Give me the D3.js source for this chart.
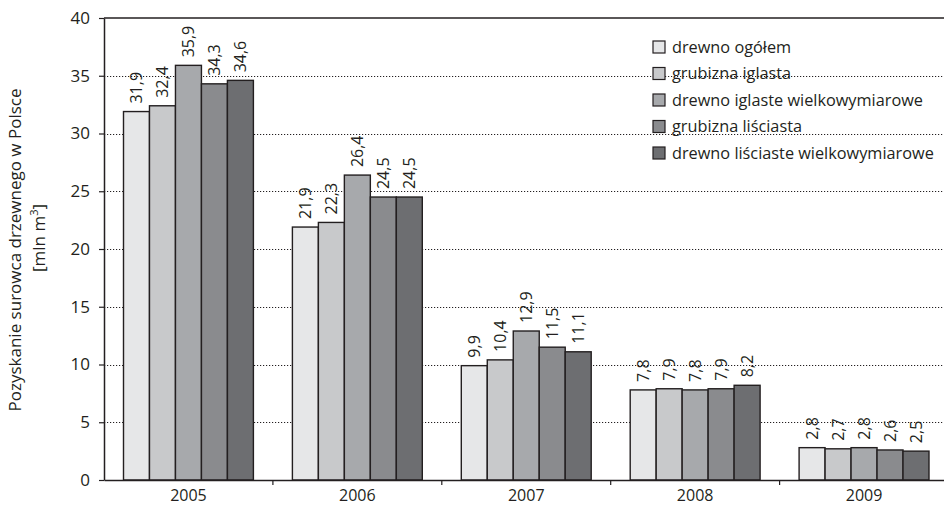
<!DOCTYPE html>
<html>
<head>
<meta charset="utf-8">
<script src="https://cdn.jsdelivr.net/npm/d3@7"></script>
<style>
  html, body { margin: 0; padding: 0; background: #fff; }
  svg { display: block; font-family: "Open Sans", "Noto Sans", sans-serif; }
</style>
</head>
<body>
<svg id="chart" width="944" height="508"></svg>
<script>
// Harvest of raw wood in Poland, million m³
const years = ["2005", "2006", "2007", "2008", "2009"];
const seriesNames = [
  "drewno ogółem",
  "grubizna iglasta",
  "drewno iglaste wielkowymiarowe",
  "grubizna liściasta",
  "drewno liściaste wielkowymiarowe"
];
const drewnoOgolem = [31.9, 21.9, 9.9, 7.8, 2.8];
const grubiznaIglasta = [32.4, 22.3, 10.4, 7.9, 2.7];
const iglasteWielkowymiarowe = [35.9, 26.4, 12.9, 7.8, 2.8];
const grubiznaLisciasta = [34.3, 24.5, 11.5, 7.9, 2.6];
const lisciasteWielkowymiarowe = [34.6, 24.5, 11.1, 8.2, 2.5];
const yTicks = [0, 5, 10, 15, 20, 25, 30, 35, 40];

const seriesValues = [drewnoOgolem, grubiznaIglasta, iglasteWielkowymiarowe, grubiznaLisciasta, lisciasteWielkowymiarowe];
const colors = ["#e6e7e8", "#c8c9cb", "#a7a9ac", "#8a8b8e", "#6d6e71"];
const ink = "#231f20";

const svg = d3.select("#chart");
const plotLeft = 104, plotRight = 948.5, plotTop = 18, plotBottom = 480;

const x = d3.scaleBand().domain(years).range([plotLeft, plotRight]).padding(0);
const sub = d3.scaleBand().domain(d3.range(seriesNames.length))
  .range([19.5, x.bandwidth() - 19.5]).padding(0);
const y = d3.scaleLinear().domain([0, 40]).range([plotBottom, plotTop]);

const fmt = v => d3.format(".1f")(v).replace(".", ",");

// dotted grid lines
svg.append("g").selectAll("line")
  .data(yTicks.filter(t => t > 0 && t < 40))
  .join("line")
  .attr("x1", plotLeft).attr("x2", 944)
  .attr("y1", d => Math.round(y(d)) + 0.5).attr("y2", d => Math.round(y(d)) + 0.5)
  .attr("stroke", ink).attr("stroke-width", 1).attr("stroke-dasharray", "1.2,1.8");

// top frame
svg.append("line")
  .attr("x1", plotLeft).attr("x2", 944)
  .attr("y1", plotTop).attr("y2", plotTop)
  .attr("stroke", ink).attr("stroke-width", 1.5);

// bars
const rows = [];
years.forEach((yr, i) => seriesValues.forEach((vals, s) => rows.push({ yr, s, v: vals[i] })));

svg.append("g").selectAll("rect")
  .data(rows)
  .join("rect")
  .attr("x", d => x(d.yr) + sub(d.s))
  .attr("width", sub.bandwidth())
  .attr("y", d => y(d.v))
  .attr("height", d => y(0) - y(d.v))
  .attr("fill", d => colors[d.s])
  .attr("stroke", ink).attr("stroke-width", 1.4);

// value labels, rotated
svg.append("g").selectAll("text")
  .data(rows)
  .join("text")
  .attr("transform", d => `translate(${x(d.yr) + sub(d.s) + sub.bandwidth() / 2 + 5.5},${y(d.v) - 8}) rotate(-90)`)
  .attr("font-size", 16)
  .attr("fill", ink)
  .text(d => fmt(d.v));

// y axis
const yAxis = svg.append("g")
  .attr("transform", `translate(${plotLeft},0)`)
  .call(d3.axisLeft(y).tickValues(yTicks).tickSize(5).tickSizeOuter(0));
yAxis.select(".domain").attr("stroke", ink).attr("stroke-width", 1.5);
yAxis.selectAll(".tick line").attr("stroke", ink).attr("stroke-width", 1.2);
yAxis.selectAll(".tick text")
  .attr("font-size", 17).attr("fill", ink).attr("x", -14)
  .attr("font-family", "'Open Sans', sans-serif");

// x axis
const xAxis = svg.append("g")
  .attr("transform", `translate(0,${plotBottom})`)
  .call(d3.axisBottom(x).tickSize(0).tickSizeOuter(0));
xAxis.select(".domain").attr("stroke", ink).attr("stroke-width", 1.5);
xAxis.selectAll(".tick text")
  .attr("font-size", 16).attr("fill", ink).attr("dy", "0.71em").attr("y", 10)
  .attr("font-family", "'Open Sans', sans-serif");
// boundary ticks between categories
svg.append("g").selectAll("line")
  .data(years.slice(1))
  .join("line")
  .attr("x1", d => x(d)).attr("x2", d => x(d))
  .attr("y1", plotBottom).attr("y2", plotBottom + 5)
  .attr("stroke", ink).attr("stroke-width", 1.2);

// y axis title
const yTitle = svg.append("g")
  .attr("font-size", 17)
  .attr("fill", ink)
  .attr("text-anchor", "middle");
yTitle.append("text")
  .attr("transform", `translate(21,250) rotate(-90)`)
  .text("Pozyskanie surowca drzewnego w Polsce");
const line2 = yTitle.append("text")
  .attr("transform", `translate(45,238) rotate(-90)`);
line2.append("tspan").text("[mln m");
line2.append("tspan").attr("font-size", 11).attr("baseline-shift", "super").text("3");
line2.append("tspan").text("]");

// legend
const legend = svg.append("g").attr("transform", "translate(653,41)");
const item = legend.selectAll("g")
  .data(seriesNames)
  .join("g")
  .attr("transform", (d, i) => `translate(0,${i * 26.5})`);
item.append("rect")
  .attr("width", 12).attr("height", 12)
  .attr("fill", (d, i) => colors[i])
  .attr("stroke", ink).attr("stroke-width", 1.2);
item.append("text")
  .attr("x", 19).attr("y", 6).attr("dy", "0.35em")
  .attr("font-size", 16.3)
  .attr("fill", ink)
  .text(d => d);
</script>
</body>
</html>
